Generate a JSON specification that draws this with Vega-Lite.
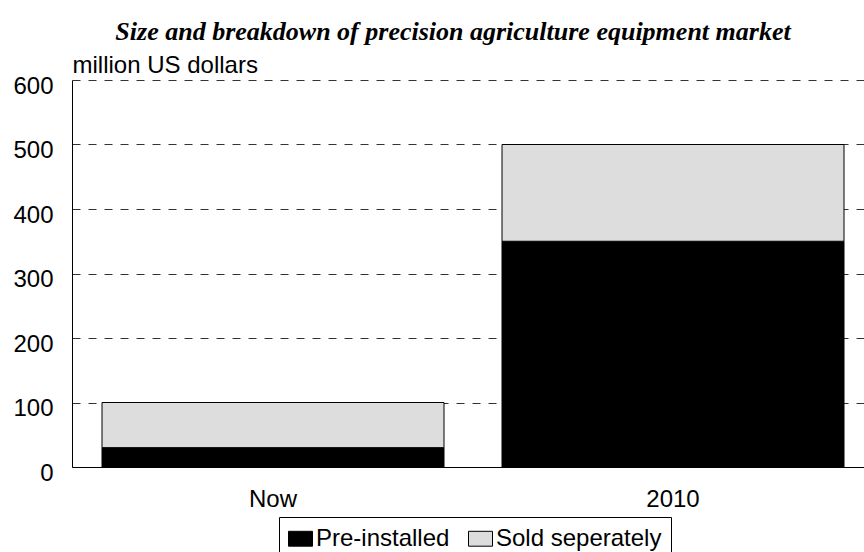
{
  "$schema": "https://vega.github.io/schema/vega-lite/v6.json",
  "autosize": {"type": "none"},
  "padding": {"left": 72, "top": 80, "right": 0, "bottom": 85},
  "width": 792,
  "height": 387,
  "background": "white",
  "title": {
    "text": "Size and breakdown of precision agriculture equipment market",
    "font": "Liberation Serif",
    "fontSize": 26,
    "fontStyle": "italic",
    "fontWeight": "bold",
    "color": "black",
    "frame": "group",
    "anchor": "middle",
    "baseline": "alphabetic",
    "dx": -15,
    "dy": 33,
    "offset": 20
  },
  "data": {
    "values": [
      {"period": "Now", "type": "Pre-installed", "value": 30},
      {"period": "Now", "type": "Sold seperately", "value": 70},
      {"period": "2010", "type": "Pre-installed", "value": 350},
      {"period": "2010", "type": "Sold seperately", "value": 150}
    ]
  },
  "mark": {"type": "bar", "stroke": "black", "strokeWidth": 1},
  "encoding": {
    "x": {
      "field": "period",
      "type": "nominal",
      "sort": ["Now", "2010"],
      "scale": {"range": [0, 802], "paddingInner": 0.145, "paddingOuter": 0.075},
      "axis": {
        "title": null,
        "labelAngle": 0,
        "labelFont": "Liberation Sans",
        "labelFontSize": 24,
        "labelColor": "black",
        "labelBaseline": "alphabetic",
        "labelPadding": 39,
        "ticks": false,
        "tickSize": 0,
        "domainColor": "black",
        "domainWidth": 1
      }
    },
    "y": {
      "field": "value",
      "type": "quantitative",
      "aggregate": "sum",
      "stack": "zero",
      "scale": {"domain": [0, 600], "nice": false},
      "axis": {
        "title": "million US dollars",
        "titleAngle": 0,
        "titleAlign": "left",
        "titleBaseline": "alphabetic",
        "titleX": 0,
        "titleY": -8,
        "titleFont": "Liberation Sans",
        "titleFontSize": 24,
        "titleFontWeight": "normal",
        "titleColor": "black",
        "values": [0, 100, 200, 300, 400, 500, 600],
        "labelFont": "Liberation Sans",
        "labelFontSize": 24,
        "labelColor": "black",
        "labelBaseline": "alphabetic",
        "labelOffset": 13,
        "labelPadding": 19,
        "ticks": false,
        "tickSize": 0,
        "domainColor": "black",
        "domainWidth": 1,
        "grid": true,
        "gridColor": "#333333",
        "gridWidth": 1,
        "gridDash": [8, 8]
      }
    },
    "color": {
      "field": "type",
      "type": "nominal",
      "scale": {"domain": ["Pre-installed", "Sold seperately"], "range": ["#000000", "#dddddd"]},
      "legend": {
        "title": null,
        "orient": "none",
        "direction": "horizontal",
        "legendX": 207,
        "legendY": 437,
        "strokeColor": "black",
        "fillColor": "white",
        "padding": 9,
        "symbolType": "M-1,-0.62H1V0.62H-1Z",
        "symbolSize": 576,
        "symbolStrokeColor": "black",
        "symbolStrokeWidth": 1,
        "symbolOpacity": 1,
        "labelFont": "Liberation Sans",
        "labelFontSize": 24,
        "labelColor": "black",
        "labelOffset": 3,
        "columnPadding": 16,
        "labelLimit": 300
      }
    },
    "order": {"field": "type", "sort": "ascending"}
  },
  "config": {
    "view": {"stroke": null}
  }
}
